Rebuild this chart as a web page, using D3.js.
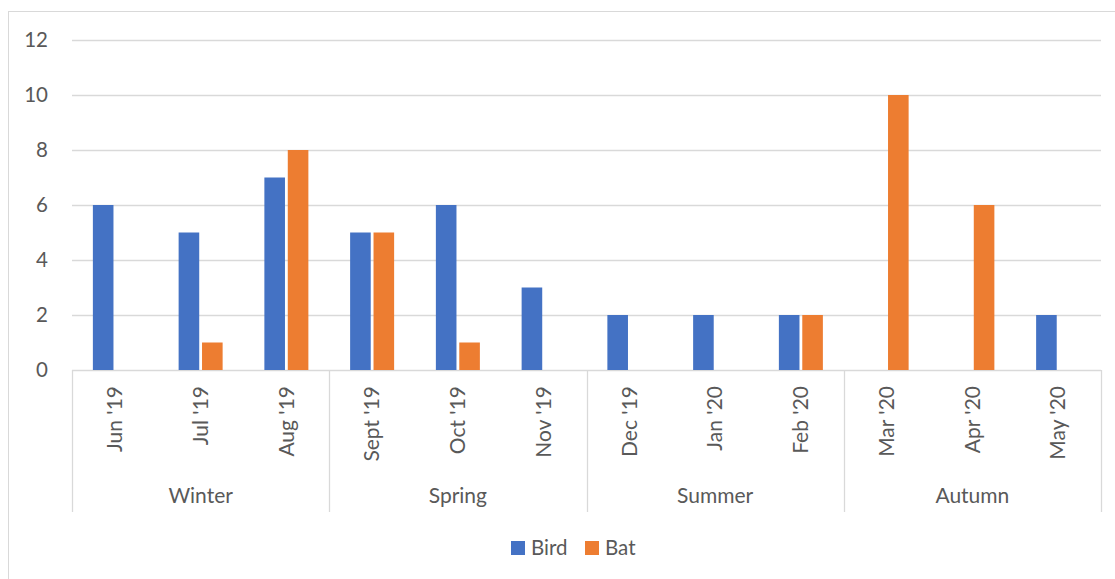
<!DOCTYPE html>
<html><head><meta charset="utf-8">
<script src="https://cdn.jsdelivr.net/npm/d3@7"></script>
<style>body{margin:0;background:#fff}svg{display:block}</style>
</head><body>
<script>
const months = ["Jun '19","Jul '19","Aug '19","Sept '19","Oct '19","Nov '19","Dec '19","Jan '20","Feb '20","Mar '20","Apr '20","May '20"];
const seasons = ["Winter","Spring","Summer","Autumn"];
const bird = [6,5,7,5,6,3,2,2,2,0,0,2];
const bat  = [0,1,8,5,1,0,0,0,2,10,6,0];
const seriesNames = ["Bird","Bat"];
const colors = ["#4472C4","#ED7D31"];
const yTicks = [0,2,4,6,8,10,12];

const W=1115,H=579;
const svg=d3.select("body").append("svg").attr("width",W).attr("height",H);
const font="Lato, 'Open Sans', sans-serif", tc="#595959", gc="#d9d9d9";
svg.append("rect").attr("x",8.5).attr("y",11.5).attr("width",1300).attr("height",800).attr("fill","#fff").attr("stroke",gc);

const L=72,R=1101,T=40,B=370;
const y=d3.scaleLinear().domain([0,12]).range([B,T]);
const x=d3.scaleBand().domain(months).range([L,R]).padding(0);
const x1=d3.scaleBand().domain(seriesNames).range([x.bandwidth()/2-22,x.bandwidth()/2+22]).paddingInner(0.12);

const g=svg.append("g");
g.selectAll(".grid").data(yTicks).join("line")
 .attr("x1",L).attr("x2",R).attr("y1",d=>Math.round(y(d))+0.5).attr("y2",d=>Math.round(y(d))+0.5)
 .attr("stroke",gc).attr("stroke-width",1.3);
g.selectAll(".yl").data(yTicks).join("text")
 .attr("x",48).attr("y",d=>y(d)).attr("dy","0.35em").attr("text-anchor","end")
 .attr("font-family",font).attr("font-size",20.5).attr("fill",tc).text(d=>d);

const data=months.map((m,i)=>({m,vals:[bird[i],bat[i]]}));
const cg=g.selectAll(".cat").data(data).join("g").attr("transform",d=>`translate(${x(d.m)},0)`);
cg.selectAll("rect").data(d=>d.vals.map((v,k)=>({v,k}))).join("rect")
 .attr("x",d=>x1(seriesNames[d.k])).attr("width",x1.bandwidth())
 .attr("y",d=>y(d.v)).attr("height",d=>y(0)-y(d.v)).attr("fill",d=>colors[d.k]);

// month labels
g.selectAll(".ml").data(months).join("text")
 .attr("transform",d=>`translate(${x(d)+x.bandwidth()/2},386) rotate(-90)`)
 .attr("dy","0.35em").attr("text-anchor","end")
 .attr("font-family",font).attr("font-size",21).attr("fill",tc).text(d=>d);
// season separators
const sepIdx=[0,3,6,9,12];
g.selectAll(".sep").data(sepIdx).join("line")
 .attr("x1",d=>Math.round(L+d*x.bandwidth())+0.5).attr("x2",d=>Math.round(L+d*x.bandwidth())+0.5)
 .attr("y1",B).attr("y2",512).attr("stroke",gc).attr("stroke-width",1.3);
g.selectAll(".sl").data(seasons).join("text")
 .attr("x",(d,i)=>L+(i*3+1.5)*x.bandwidth()).attr("y",496).attr("dy","0.35em").attr("text-anchor","middle")
 .attr("font-family",font).attr("font-size",21).attr("fill",tc).text(d=>d);

// legend
const lg=svg.append("g");
const lx=[511,585];
seriesNames.forEach((s,i)=>{
  lg.append("rect").attr("x",lx[i]).attr("y",541).attr("width",14).attr("height",14).attr("fill",colors[i]);
  lg.append("text").attr("x",lx[i]+20).attr("y",548).attr("dy","0.35em")
    .attr("font-family",font).attr("font-size",20.5).attr("fill",tc).text(s);
});
</script>
</body></html>
